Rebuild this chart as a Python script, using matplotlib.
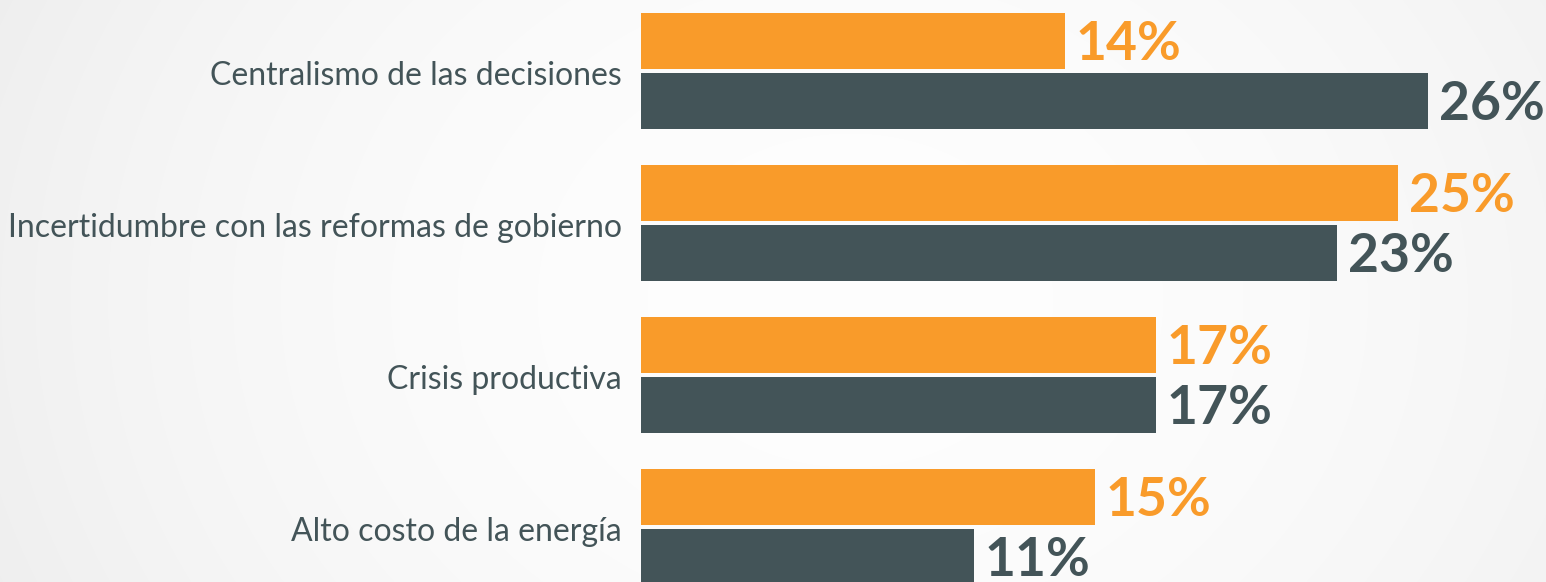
import matplotlib.pyplot as plt
import numpy as np

categories = ['Centralismo de las decisiones', 'Incertidumbre con las reformas de gobierno',
              'Crisis productiva', 'Alto costo de la energía']
orange_vals = [14, 25, 17, 15]
dark_vals = [26, 23, 17, 11]

orange = '#F99B2A'
dark = '#435458'

plt.rcParams['font.family'] = ['Lato', 'DejaVu Sans']

fig = plt.figure(figsize=(15.46, 5.82), dpi=100)

# soft radial background, nearly white in the middle
bg = fig.add_axes([0, 0, 1, 1])
yy, xx = np.mgrid[0:582, 0:1546]
r = np.sqrt(((xx - 850) / 850.0) ** 2 + ((yy - 300) / 700.0) ** 2)
shade = 0.995 - 0.05 * np.clip(r, 0, 1.3) ** 2
img = np.dstack([shade, shade, shade])
bg.imshow(img, aspect='auto', extent=[0, 1, 0, 1], interpolation='bilinear')
bg.axis('off')

ax = fig.add_axes([641 / 1546, 0, 905 / 1546, 1])
ax.patch.set_alpha(0)
y = np.arange(len(categories))
h = 56 / 152
off = 30 / 152
ax.barh(y - off, orange_vals, height=h, color=orange)
ax.barh(y + off, dark_vals, height=h, color=dark)

for i in range(len(categories)):
    ax.text(orange_vals[i] + 0.36, y[i] - off + 0.02, f'{orange_vals[i]}%', color=orange,
            fontsize=38.5, fontweight='bold', va='center', ha='left')
    ax.text(dark_vals[i] + 0.36, y[i] + off + 0.02, f'{dark_vals[i]}%', color=dark,
            fontsize=38.5, fontweight='bold', va='center', ha='left')

ax.set_xlim(0, 905 / 30.27)
ax.set_ylim((582 - 71) / 152, -71 / 152)
ax.set_yticks(y + 0.01)
ax.set_yticklabels(categories, fontsize=23, color=dark)
ax.tick_params(axis='y', length=0, pad=14)
ax.set_xticks([])
for s in ax.spines.values():
    s.set_visible(False)

fig.savefig('out.png', dpi=100)
